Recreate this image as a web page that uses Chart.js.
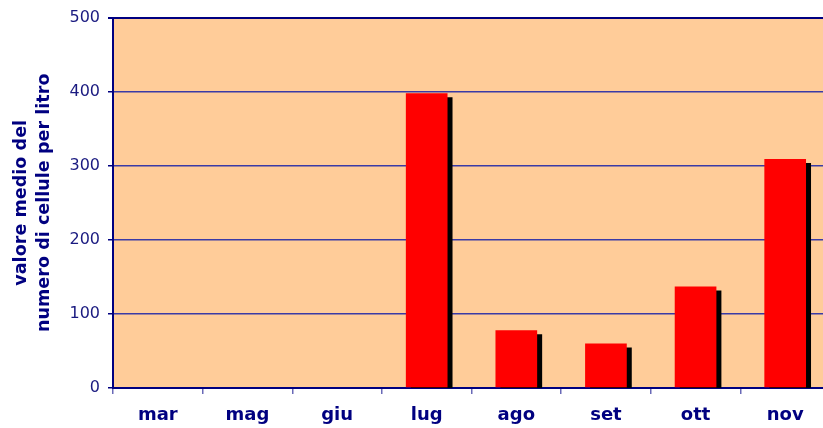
<!DOCTYPE html>
<html>
<head>
<meta charset="utf-8">
<script src="https://cdn.jsdelivr.net/npm/chart.js@4/dist/chart.umd.min.js"></script>
<style>
html,body{margin:0;padding:0;background:#fff;overflow:hidden;width:823px;height:428px;}
canvas{display:block;}
</style>
</head>
<body>
<canvas id="c" width="830" height="428"></canvas>
<script>
const categories = ['mar','mag','giu','lug','ago','set','ott','nov'];
const values = [0, 0, 0, 398, 78, 60, 137, 309];
const yTicks = [0, 100, 200, 300, 400, 500];
const yTitle = ['valore medio del', 'numero di cellule per litro'];

const NAVY = '#000080';

const bgPlugin = {
  id: 'bg',
  beforeDraw(chart) {
    const {ctx, chartArea: a} = chart;
    ctx.save();
    ctx.fillStyle = '#FFCC99';
    ctx.fillRect(a.left, a.top, a.right - a.left, a.bottom - a.top);
    ctx.restore();
  }
};
const shadowPlugin = {
  id: 'shadow',
  beforeDatasetsDraw(chart) {
    const ctx = chart.ctx;
    ctx.save();
    ctx.shadowColor = '#000000';
    ctx.shadowOffsetX = 5;
    ctx.shadowOffsetY = 4;
    ctx.shadowBlur = 0;
  },
  afterDatasetsDraw(chart) {
    chart.ctx.restore();
  }
};

new Chart(document.getElementById('c'), {
  type: 'bar',
  data: {
    labels: categories,
    datasets: [{
      data: values,
      backgroundColor: '#FF0000',
      borderWidth: 0,
      barPercentage: 0.465,
      categoryPercentage: 1,
      clip: 0
    }]
  },
  options: {
    responsive: false,
    animation: false,
    devicePixelRatio: 1,
    layout: { padding: { top: 16, right: 0, bottom: 0, left: 0 } },
    plugins: { legend: { display: false }, tooltip: { enabled: false } },
    scales: {
      x: {
        z: 1,
        afterFit(s) { s.height = 40; },
        grid: {
          offset: true,
          drawOnChartArea: false,
          drawTicks: true,
          tickLength: 6,
          color: '#6a6ab8',
          lineWidth: 1.5
        },
        border: { color: NAVY, width: 2 },
        ticks: {
          color: NAVY,
          padding: 11,
          font: { family: 'DejaVu Sans', size: 18, weight: 'bold' }
        }
      },
      y: {
        min: 0,
        max: 500,
        afterFit(s) { s.width = 113; },
        afterBuildTicks(s) { s.ticks = yTicks.map(v => ({ value: v })); },
        grid: {
          color: ctx => (ctx.tick && ctx.tick.value === 500) ? NAVY : '#3a3aa6',
          lineWidth: ctx => (ctx.tick && ctx.tick.value === 500) ? 2 : 1.5,
          tickLength: 5,
          tickColor: NAVY,
          drawTicks: true
        },
        border: { color: NAVY, width: 2 },
        ticks: {
          color: '#1a1a80',
          padding: 8,
          font: { family: 'DejaVu Sans', size: 16 }
        },
        title: {
          display: true,
          text: yTitle,
          color: NAVY,
          padding: { top: 10, bottom: 0 },
          font: { family: 'DejaVu Sans', size: 17.6, weight: 'bold', lineHeight: 1.31 }
        }
      }
    }
  },
  plugins: [bgPlugin, shadowPlugin]
});
</script>
</body>
</html>
